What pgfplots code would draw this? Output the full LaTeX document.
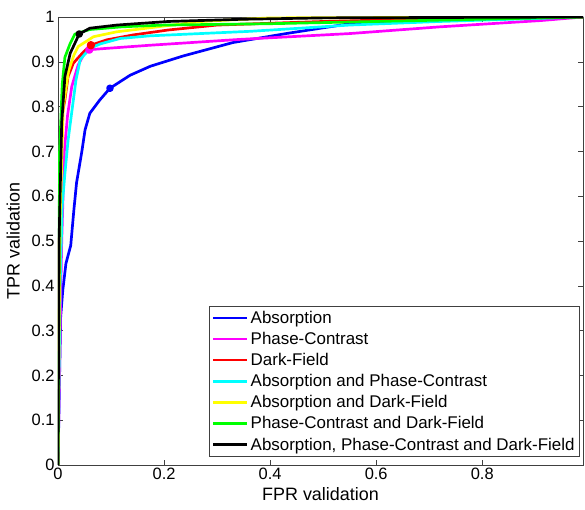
\documentclass[border=0pt]{standalone}
\usepackage{pgfplots}
\pgfplotsset{compat=1.18}
\usepackage{fontspec}
\setmainfont{Liberation Sans}
\definecolor{mblue}{rgb}{0,0,1}
\definecolor{mmag}{rgb}{1,0,1}
\definecolor{mred}{rgb}{1,0,0}
\definecolor{mcyan}{rgb}{0,1,1}
\definecolor{myel}{rgb}{1,1,0}
\definecolor{mgreen}{rgb}{0,1,0}

\begin{document}
\begin{tikzpicture}
\begin{axis}[
    scale only axis,
    width=525bp, height=448bp,
    xmin=0, xmax=0.99, ymin=0, ymax=1,
    xtick={0,0.2,0.4,0.6,0.8},
    ytick={0,0.1,...,1},
    yticklabel style={/pgf/number format/fixed},
    xticklabel style={/pgf/number format/fixed},
    /pgf/number format/assume math mode=true,
    tick align=inside,
    major tick length=5bp,
    axis line style={black!75},
    tick style={black!75},
    ticklabel style={font=\fontsize{16.5}{19}\selectfont},
    label style={font=\fontsize{18}{21}\selectfont},
    xlabel={FPR validation},
    ylabel={TPR validation},
    xlabel style={yshift=-1bp},
    ylabel style={yshift=5bp},
    every axis plot/.append style={line width=2.7pt, line join=round},
    legend style={at={(0.994,0.018)}, anchor=south east, draw=black!75, line width=0.6pt,
        font=\fontsize{17}{20}\selectfont, row sep=3.4bp, inner xsep=3bp, inner ysep=3bp},
    legend cell align=left,
    legend image code/.code={\draw[#1, line width=2.7pt] (0bp,0bp) -- (34bp,0bp);},
]
% Absorption
\addplot[mblue] coordinates {
(0,0) (0.003,0.2) (0.005,0.33) (0.009,0.39) (0.015,0.45) (0.024,0.49) (0.03,0.57)
(0.035,0.63) (0.045,0.70) (0.051,0.748) (0.06,0.785) (0.079,0.815) (0.098,0.841)
(0.136,0.87) (0.174,0.89) (0.236,0.913) (0.33,0.943) (0.43,0.963) (0.55,0.985)
(0.65,0.993) (0.83,1.0) (0.99,1)
};
% Phase-Contrast
\addplot[mmag] coordinates {
(0,0) (0.004,0.3) (0.007,0.5) (0.012,0.7) (0.018,0.78) (0.026,0.845) (0.038,0.893)
(0.048,0.915) (0.059,0.927) (0.092,0.930) (0.174,0.937) (0.343,0.950) (0.55,0.963)
(0.72,0.978) (0.91,0.992) (0.99,1)
};
% Dark-Field
\addplot[mred] coordinates {
(0,0) (0.003,0.6) (0.007,0.777) (0.013,0.815) (0.019,0.867) (0.029,0.897) (0.048,0.922)
(0.062,0.937) (0.092,0.949) (0.142,0.96) (0.208,0.971) (0.3,0.982) (0.5,0.99)
(0.75,0.997) (0.99,1)
};
% Absorption and Phase-Contrast
\addplot[mcyan] coordinates {
(0,0) (0.004,0.4) (0.008,0.58) (0.013,0.65) (0.019,0.725) (0.029,0.815) (0.034,0.86)
(0.042,0.905) (0.06,0.93) (0.08,0.94) (0.117,0.952) (0.174,0.958) (0.268,0.963)
(0.362,0.968) (0.457,0.975) (0.55,0.982) (0.72,0.99) (0.909,0.997) (0.99,1)
};
% Absorption and Dark-Field
\addplot[myel] coordinates {
(0,0) (0.004,0.55) (0.01,0.8) (0.02,0.88) (0.03,0.915) (0.038,0.934) (0.067,0.956)
(0.111,0.967) (0.174,0.976) (0.27,0.99) (0.4,0.998) (0.99,1)
};
% Phase-Contrast and Dark-Field
\addplot[mgreen] coordinates {
(0,0) (0.003,0.7) (0.008,0.85) (0.013,0.91) (0.023,0.941) (0.032,0.962) (0.06,0.972)
(0.12,0.978) (0.2,0.982) (0.4,0.985) (0.6,0.99) (0.8,0.995) (0.99,1)
};
% Absorption, Phase-Contrast and Dark-Field
\addplot[black] coordinates {
(0,0) (0.002,0.5) (0.007,0.763) (0.013,0.867) (0.023,0.919) (0.04,0.962) (0.06,0.975)
(0.111,0.982) (0.208,0.99) (0.35,0.995) (0.5,0.998) (0.99,1)
};
% operating points
\addplot[mblue, only marks, mark=*, mark size=2.4pt, forget plot] coordinates {(0.098,0.841)};
\addplot[mmag, only marks, mark=*, mark size=2.8pt, forget plot] coordinates {(0.059,0.927)};
\addplot[mred, only marks, mark=*, mark size=2.8pt, forget plot] coordinates {(0.062,0.937)};
\addplot[black, only marks, mark=*, mark size=2.4pt, forget plot] coordinates {(0.04,0.962)};
\coordinate (sw) at (rel axis cs:0,0);
\coordinate (ne) at (rel axis cs:1,1);
\legend{Absorption, Phase-Contrast, Dark-Field, Absorption and Phase-Contrast,
    Absorption and Dark-Field, Phase-Contrast and Dark-Field,
    {Absorption, Phase-Contrast and Dark-Field}}
\end{axis}
\path ([shift={(-58bp,-45bp)}]sw) rectangle ([shift={(2bp,17bp)}]ne);
\end{tikzpicture}
\end{document}
